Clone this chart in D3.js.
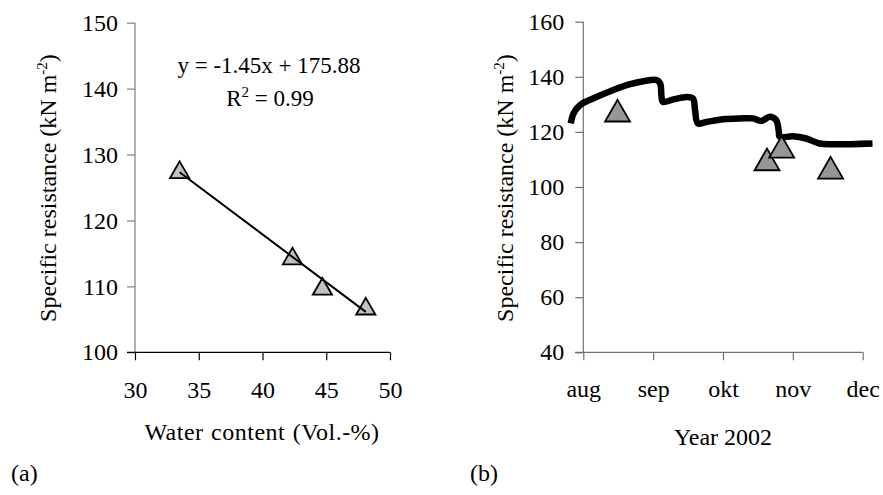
<!DOCTYPE html>
<html><head><meta charset="utf-8">
<script src="https://cdn.jsdelivr.net/npm/d3@7/dist/d3.min.js"></script>
<style>body{margin:0;background:#fff}svg{display:block}</style>
</head><body><svg id="c" width="883" height="495"></svg>
<script>
// Panel (a): water content vs specific resistance
const waterContent = [33.5, 42.35, 44.7, 48.1];
const resistanceA = [127.7, 114.6, 110.0, 107.0];
const xTicksA = [30, 35, 40, 45, 50];
const yTicksA = [100, 110, 120, 130, 140, 150];
const slope = -1.45, intercept = 175.88;
// Panel (b): time series (x in months since 1 Aug 2002)
const months = ["aug", "sep", "okt", "nov", "dec"];
const lineT = [-0.18,-0.14,-0.05,0.14,0.43,0.67,0.86,1.05,1.10,1.12,1.14,1.29,1.48,1.57,1.60,1.64,1.76,2.0,2.24,2.43,2.55,2.67,2.76,2.80,2.81,3.0,3.19,3.38,3.57,4.14];
const lineV = [123.1,126.7,129.7,132.1,135.2,137.3,138.4,138.8,137.6,132.7,130.9,131.8,132.7,132.1,127.9,123.1,123.6,124.6,124.9,124.9,124.0,125.5,124.3,120.0,118.2,118.4,117.6,115.8,115.5,115.8];
const obsT = [0.49, 2.63, 2.84, 3.54];
const obsV = [127.7, 110.0, 114.6, 107.0];
const yTicksB = [40, 60, 80, 100, 120, 140, 160];

const FONT = '"Liberation Serif"';
const svg = d3.select("#c");
const tri = d3.symbol().type(d3.symbolTriangle);
// offset so the triangle's bounding-box centre sits on the data point
const triOffset = size => Math.sqrt(size * 4 / Math.sqrt(3)) * Math.sqrt(3) / 2 / 6;

// ---------- Panel A ----------
const xA = d3.scaleLinear().domain([30, 50]).range([135, 390]);
const yA = d3.scaleLinear().domain([100, 150]).range([352.3, 22.7]);
const gA = svg.append("g");
const yAxA = gA.append("g").attr("transform", "translate(135,0)")
  .call(d3.axisLeft(yA).tickValues(yTicksA).tickSize(8).tickPadding(9));
yAxA.selectAll("path,line").attr("stroke", "#808080").attr("stroke-width", 1.2);
yAxA.select(".domain").attr("d", `M0,${yA(150)}V${yA(100)}`);
const xAxA = gA.append("g").attr("transform", "translate(0,352.3)")
  .call(d3.axisBottom(xA).tickValues(xTicksA).tickSize(8).tickPadding(21));
xAxA.selectAll("path,line").attr("stroke", "#000").attr("stroke-width", 1.2);
xAxA.select(".domain").attr("d", `M127,0H${xA(50)}`);

const sizeA = 160;
gA.selectAll(".ptA").data(waterContent).enter().append("path")
  .attr("d", tri.size(sizeA))
  .attr("transform", (d, i) => `translate(${xA(d)},${yA(resistanceA[i]) + triOffset(sizeA)})`)
  .attr("fill", "#c0c0c0").attr("stroke", "#000").attr("stroke-width", 1.8);
const x0 = d3.min(waterContent), x1 = d3.max(waterContent);
gA.append("line")
  .attr("x1", xA(x0)).attr("y1", yA(slope * x0 + intercept))
  .attr("x2", xA(x1)).attr("y2", yA(slope * x1 + intercept))
  .attr("stroke", "#000").attr("stroke-width", 2);

gA.append("text").attr("x", 269).attr("y", 73).attr("text-anchor", "middle")
  .style("font-size", "23px").text("y = -1.45x + 175.88");
const r2 = gA.append("text").attr("x", 270).attr("y", 106).attr("text-anchor", "middle").style("font-size", "23px");
r2.append("tspan").text("R");
r2.append("tspan").attr("dy", -9).style("font-size", "15px").text("2");
r2.append("tspan").attr("dy", 9).text(" = 0.99");

gA.append("text").attr("x", 262).attr("y", 440).attr("text-anchor", "middle")
  .style("font-size", "24px").style("word-spacing", "1px").style("letter-spacing", "0.5px").text("Water content (Vol.-%)");
function yTitle(g, x, y) {
  const t = g.append("text").attr("transform", `translate(${x},${y}) rotate(-90)`)
    .attr("text-anchor", "middle").style("font-size", "24px");
  t.append("tspan").text("Specific resistance (kN m");
  t.append("tspan").attr("dy", -9).style("font-size", "15px").text("-2");
  t.append("tspan").attr("dy", 9).text(")");
}
yTitle(gA, 56, 188);
svg.append("text").attr("x", 11).attr("y", 481).style("font-size", "24px").text("(a)");

// ---------- Panel B ----------
const xB = d3.scaleLinear().domain([0, 4]).range([583.3, 862.7]);
const yB = d3.scaleLinear().domain([40, 160]).range([352.3, 21.7]);
const gB = svg.append("g");
const yAxB = gB.append("g").attr("transform", "translate(583.3,0)")
  .call(d3.axisLeft(yB).tickValues(yTicksB).tickSize(8).tickPadding(11));
yAxB.selectAll("path,line").attr("stroke", "#707070").attr("stroke-width", 1.2);
yAxB.select(".domain").attr("d", `M0,${yB(160)}V${yB(40)}`);
const xAxB = gB.append("g").attr("transform", "translate(0,352.3)")
  .call(d3.axisBottom(xB).tickValues(d3.range(months.length)).tickFormat(i => months[i]).tickSize(8).tickPadding(19.5));
xAxB.selectAll("path,line").attr("stroke", "#707070").attr("stroke-width", 1.2);
xAxB.select(".domain").attr("d", `M575,0H${xB(4)}`);

const line = d3.line().x((d, i) => xB(lineT[i])).y(d => yB(d)).curve(d3.curveCatmullRom.alpha(0.5));
gB.append("path").datum(lineV).attr("d", line)
  .attr("fill", "none").attr("stroke", "#000").attr("stroke-width", 6.5)
  .attr("stroke-linejoin", "round");
const sizeB = 270;
gB.selectAll(".ptB").data(obsT).enter().append("path")
  .attr("d", tri.size(sizeB))
  .attr("transform", (d, i) => `translate(${xB(d)},${yB(obsV[i]) + triOffset(sizeB)})`)
  .attr("fill", "#969696").attr("stroke", "#000").attr("stroke-width", 1.8);

gB.append("text").attr("x", 723).attr("y", 445).attr("text-anchor", "middle")
  .style("font-size", "24px").text("Year 2002");
yTitle(gB, 513, 188);
svg.append("text").attr("x", 470).attr("y", 481).style("font-size", "24px").text("(b)");

// apply font to every text (axis groups set their own family)
svg.selectAll("g").attr("font-family", null).attr("font-size", null);
svg.selectAll("text").style("font-family", FONT).attr("fill", "#000");
svg.selectAll(".tick text").style("font-size", "24px");
</script></body></html>
